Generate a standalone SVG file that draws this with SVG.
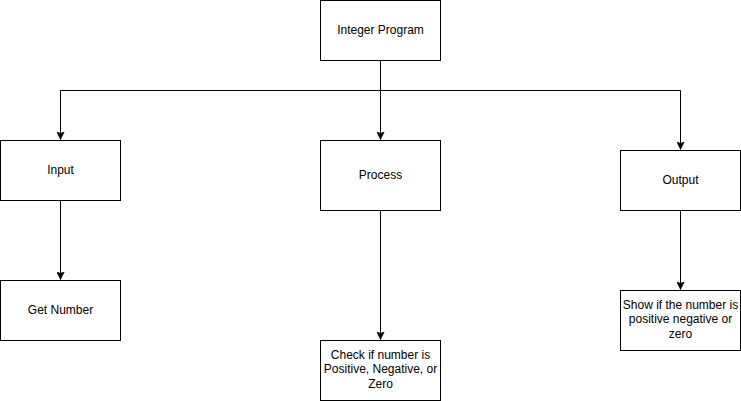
<svg xmlns="http://www.w3.org/2000/svg" width="741" height="401" viewBox="0 0 741 401">
<style>
.box{fill:#ffffff;stroke:#000000;stroke-width:1}
.edge{fill:none;stroke:#000000;stroke-width:1}
text{font-family:"Liberation Sans",Arial,Helvetica,sans-serif;font-size:12px;fill:#000000;text-anchor:middle}
</style>
<defs>
<marker id="arr" viewBox="0 0 8 8" refX="8" refY="4" markerWidth="8" markerHeight="8" markerUnits="userSpaceOnUse" orient="auto">
<path d="M0,0 L8,4 L0,8 L2,4 Z" fill="#000000" stroke="#000000" stroke-width="0.5"/>
</marker>
</defs>
<rect width="741" height="401" fill="#ffffff"/>
<g id="connectors">
<path class="edge" d="M380.5,60 L380.5,90.5 L60.5,90.5 L60.5,139.5" marker-end="url(#arr)"/>
<path class="edge" d="M380.5,60 L380.5,139.5" marker-end="url(#arr)"/>
<path class="edge" d="M380.5,60 L380.5,90.5 L680.5,90.5 L680.5,149.5" marker-end="url(#arr)"/>
<path class="edge" d="M60.5,200 L60.5,279.5" marker-end="url(#arr)"/>
<path class="edge" d="M380.5,210 L380.5,339.5" marker-end="url(#arr)"/>
<path class="edge" d="M680.5,210 L680.5,289.5" marker-end="url(#arr)"/>
</g>
<g id="integer-program">
<rect class="box" x="320.5" y="0.5" width="120" height="60"/>
<text x="380.5" y="33.5">Integer Program</text>
</g>
<g id="input">
<rect class="box" x="0.5" y="140.5" width="120" height="60"/>
<text x="60.5" y="173.5">Input</text>
</g>
<g id="process">
<rect class="box" x="320.5" y="140.5" width="120" height="70"/>
<text x="380.5" y="178.5">Process</text>
</g>
<g id="output">
<rect class="box" x="620.5" y="150.5" width="120" height="60"/>
<text x="680.5" y="183.5">Output</text>
</g>
<g id="get-number">
<rect class="box" x="0.5" y="280.5" width="120" height="60"/>
<text x="60.5" y="313.5">Get Number</text>
</g>
<g id="check">
<rect class="box" x="320.5" y="340.5" width="120" height="60"/>
<text x="380.5" y="358.5">Check if number is</text>
<text x="380.5" y="373">Positive, Negative, or</text>
<text x="380.5" y="387.5">Zero</text>
</g>
<g id="show">
<rect class="box" x="620.5" y="290.5" width="120" height="60"/>
<text x="680.5" y="308.5">Show if the number is</text>
<text x="680.5" y="323">positive negative or</text>
<text x="680.5" y="337.5">zero</text>
</g>
</svg>
